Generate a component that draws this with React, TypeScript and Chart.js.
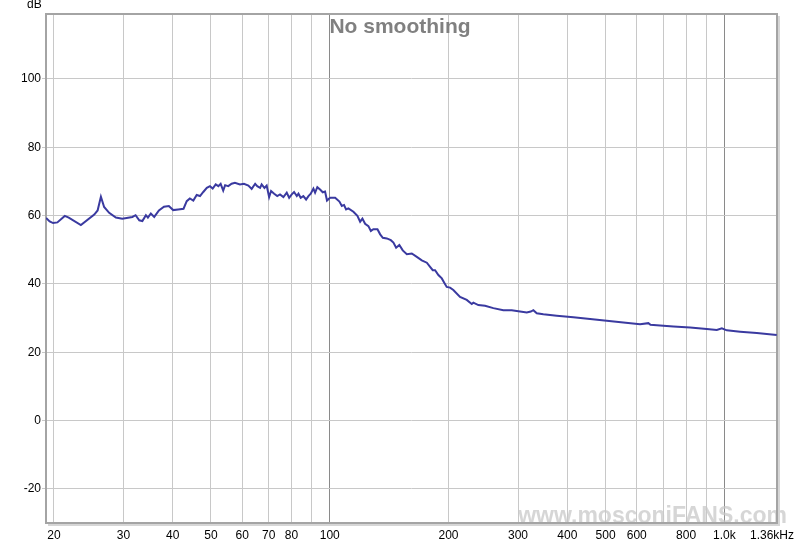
import React, { useEffect, useRef } from "react";
import { Chart, registerables } from "chart.js";

Chart.register(...registerables);

// ---- data ----
const FREQ_HZ = [
  19.1, 19.5, 19.9, 20.4, 21.3, 21.8, 23.4, 25.3, 25.8, 26.3, 26.8, 27.6, 28.7, 29.8,
  31.6, 32.2, 32.9, 33.5, 34.2, 34.6, 35.2, 35.9, 36.9, 38.0, 39.1, 40.1, 41.3, 42.6,
  43.4, 44.2, 45.1, 46.0, 46.9, 47.8, 48.8, 49.7, 50.5, 51.4, 52.2, 52.9, 53.7, 54.3,
  55.3, 56.4, 57.5, 59.2, 60.6, 62.2, 63.4, 64.7, 65.5, 66.6, 67.2, 68.3, 69.2, 70.2,
  71.0, 72.3, 73.6, 74.8, 76.3, 77.8, 78.9, 80.1, 81.2, 82.5, 83.3, 84.4, 85.7, 87.1,
  88.3, 89.5, 90.9, 91.8, 93.0, 94.5, 96.0, 97.3, 98.4, 100.2, 103.2, 105.8, 107.3,
  108.7, 110.0, 111.5, 114.8, 117.5, 119.4, 121.0, 122.9, 125.3, 127.1, 129.0, 132.1,
  134.2, 136.3, 139.5, 142.8, 145.0, 147.3, 150.1, 153.1, 156.8, 161.4, 166.2, 171.1,
  176.2, 179.6, 182.4, 184.9, 188.5, 192.3, 194.9, 197.9, 201.8, 205.7, 213.9, 222.4,
  229.0, 231.2, 238.0, 247.5, 259.8, 275.4, 289.2, 303.6, 315.7, 323.2, 328.1, 334.7,
  347.8, 376.1, 414.4, 456.9, 503.5, 554.8, 611.7, 642, 650, 674.4, 742.9, 818.9,
  902.6, 957.2, 985.6, 1014.6, 1096.6, 1208.6, 1358,
];
const LEVEL_DB = [
  59.3, 58.3, 57.8, 58.0, 59.9, 59.4, 57.2, 60.3, 61.5, 65.5, 62.5, 60.8, 59.4, 59.1,
  59.6, 60.1, 58.6, 58.4, 60.1, 59.4, 60.6, 59.6, 61.5, 62.6, 62.8, 61.6, 61.8, 62.0,
  64.2, 65.0, 64.4, 66.0, 65.7, 66.9, 68.1, 68.6, 67.9, 69.1, 68.6, 69.3, 67.3, 68.9,
  68.6, 69.3, 69.6, 69.1, 69.3, 68.8, 67.8, 69.3, 68.6, 68.1, 69.1, 68.1, 68.8, 65.4,
  67.2, 66.4, 65.7, 66.2, 65.4, 66.7, 65.2, 66.2, 66.9, 65.7, 66.4, 65.2, 65.7, 64.7,
  65.7, 66.4, 67.9, 66.7, 68.3, 67.6, 66.8, 67.0, 64.4, 65.2, 65.2, 64.1, 62.8,
  63.1, 61.8, 62.1, 61.1, 59.9, 58.2, 59.1, 57.6, 56.9, 55.5, 56.0, 56.0,
  54.5, 53.5, 53.3, 52.8, 52.1, 50.6, 51.4, 49.8, 48.7, 48.9, 47.9, 46.9,
  46.2, 45.0, 44.0, 44.0, 42.6, 41.6, 40.4, 39.1, 38.9, 38.2, 36.2, 35.3,
  34.1, 34.5, 33.8, 33.6, 32.9, 32.3, 32.3, 31.9, 31.6, 31.9, 32.3, 31.4,
  31.1, 30.7, 30.2, 29.7, 29.2, 28.7, 28.2, 28.5, 28.0, 27.9, 27.5, 27.2,
  26.8, 26.5, 27.0, 26.4, 26.0, 25.6, 25.0,
];

const X_TICKS = [20, 30, 40, 50, 60, 70, 80, 90, 100, 200, 300, 400, 500, 600, 700, 800, 900, 1000, 1360];
const X_LABELS = ["20", "30", "40", "50", "60", "70", "80", "", "100", "200", "300", "400", "500", "600", "", "800", "", "1.0k", "1.36kHz   "];
const Y_TICKS = [-20, 0, 20, 40, 60, 80, 100];
const X_MIN = 19.09;
const X_MAX = 1360;
const Y_MIN = -30;
const Y_MAX = 119;
const TITLE = "No smoothing";
const Y_UNIT = "dB";
const WATERMARK = "www.mosconiFANS.com";

const FONT = "'Liberation Sans', Arial, sans-serif";

const decorPlugin = {
  id: "decor",
  beforeDraw(chart: any) {
    const ctx = chart.ctx;
    ctx.save();
    ctx.fillStyle = "#ffffff";
    ctx.fillRect(0, 0, chart.width, chart.height);
    ctx.restore();
  },
  beforeDatasetsDraw(chart: any) {
    const ctx = chart.ctx;
    const a = chart.chartArea;
    ctx.save();
    // watermark
    ctx.font = `bold 23px ${FONT}`;
    ctx.fillStyle = "rgba(200,200,200,0.75)";
    ctx.textAlign = "right";
    ctx.textBaseline = "alphabetic";
    ctx.fillText(WATERMARK, a.right + 10, a.bottom);
    // shadow
    ctx.strokeStyle = "#d6d6d6";
    ctx.lineWidth = 2;
    ctx.beginPath();
    ctx.moveTo(a.right + 2, a.top + 2);
    ctx.lineTo(a.right + 2, a.bottom + 2);
    ctx.lineTo(a.left + 2, a.bottom + 2);
    ctx.stroke();
    // border
    ctx.strokeStyle = "#a4a4a4";
    ctx.lineWidth = 2;
    ctx.strokeRect(a.left, a.top, a.right - a.left, a.bottom - a.top);
    ctx.restore();
  },
  afterDraw(chart: any) {
    const ctx = chart.ctx;
    ctx.save();
    ctx.font = `bold 21px ${FONT}`;
    ctx.fillStyle = "#808080";
    ctx.textAlign = "center";
    ctx.textBaseline = "alphabetic";
    ctx.fillText(TITLE, 400, 33);
    ctx.font = `12px ${FONT}`;
    ctx.fillStyle = "#000000";
    ctx.textAlign = "left";
    ctx.fillText(Y_UNIT, 27, 8);
    ctx.restore();
  },
};

export default function App() {
  const canvasRef = useRef<HTMLCanvasElement | null>(null);

  useEffect(() => {
    if (!canvasRef.current) return;
    const points = FREQ_HZ.map((f, i) => ({ x: f, y: LEVEL_DB[i] }));
    const chart = new Chart(canvasRef.current, {
      type: "scatter",
      data: {
        datasets: [
          {
            data: points,
            showLine: true,
            borderColor: "#3a3aa0",
            backgroundColor: "#3a3aa0",
            borderWidth: 2,
            pointRadius: 0,
            tension: 0,
          },
        ],
      },
      options: {
        responsive: false,
        animation: false,
        devicePixelRatio: 1,
        layout: { padding: { top: 14, right: 23, bottom: 0, left: 0 } },
        font: { family: FONT, size: 12 },
        plugins: {
          legend: { display: false },
          tooltip: { enabled: false },
          title: { display: false },
        },
        scales: {
          x: {
            type: "logarithmic",
            min: X_MIN,
            max: X_MAX,
            afterBuildTicks: (s: any) => {
              s.ticks = X_TICKS.map((v) => ({ value: v }));
            },
            afterFit: (s: any) => {
              s.height = 22;
              s.paddingLeft = 0;
              s.paddingRight = 0;
            },
            ticks: {
              autoSkip: false,
              maxRotation: 0,
              minRotation: 0,
              padding: 5,
              color: "#000000",
              font: { family: FONT, size: 12 },
              callback: (v: any) => {
                const i = X_TICKS.indexOf(Number(v));
                return i >= 0 ? X_LABELS[i] : "";
              },
            },
            grid: {
              drawTicks: false,
              lineWidth: 1,
              color: (c: any) =>
                c.tick && (c.tick.value === 100 || c.tick.value === 1000) ? "#8a8a8a" : "#c8c8c8",
            },
            border: { display: false },
          },
          y: {
            type: "linear",
            min: Y_MIN,
            max: Y_MAX,
            afterBuildTicks: (s: any) => {
              s.ticks = Y_TICKS.map((v) => ({ value: v }));
            },
            afterFit: (s: any) => {
              s.width = 46;
              s.paddingTop = 0;
              s.paddingBottom = 0;
            },
            ticks: {
              padding: 1,
              color: "#000000",
              font: { family: FONT, size: 12 },
            },
            grid: {
              drawTicks: true,
              tickLength: 4,
              lineWidth: 1,
              color: "#c8c8c8",
            },
            border: { display: false },
          },
        },
      } as any,
      plugins: [decorPlugin],
    });
    return () => chart.destroy();
  }, []);

  return (
    <div style={{ position: "fixed", left: 0, top: 0, width: 800, height: 545, background: "#fff" }}>
      <canvas ref={canvasRef} width={800} height={545} style={{ display: "block" }} />
    </div>
  );
}
